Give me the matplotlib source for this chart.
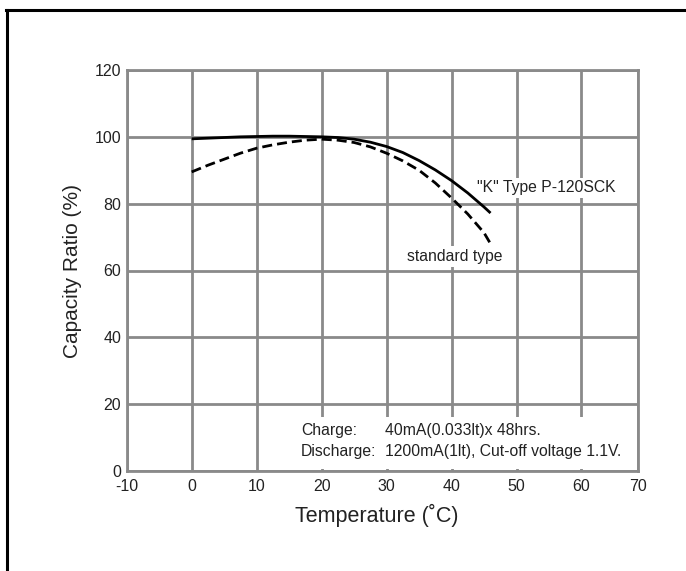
import matplotlib
matplotlib.use("Agg")
import matplotlib.pyplot as plt
from matplotlib.patches import Rectangle
from matplotlib.lines import Line2D

plt.rcParams['font.family'] = ['Liberation Sans', 'DejaVu Sans']

# Data
temp_k = [0, 2.5, 5, 7.5, 10, 12.5, 15, 17.5, 20, 22.5, 25, 27.5, 30, 32.5, 35, 37.5, 40, 42.5, 45, 46]
cap_k = [99.4, 99.6, 99.8, 100.0, 100.1, 100.2, 100.2, 100.1, 100.0, 99.8, 99.3, 98.4, 97.1, 95.3, 92.9, 90.1, 86.9, 83.2, 79.0, 77.2]
temp_std = [0, 2.5, 5, 7.5, 10, 12.5, 15, 17.5, 20, 22.5, 25, 27.5, 30, 32.5, 35, 37.5, 40, 42.5, 45, 46]
cap_std = [89.5, 91.5, 93.3, 95.1, 96.6, 97.6, 98.4, 99.0, 99.3, 99.0, 98.3, 97.0, 95.1, 92.8, 90.0, 86.2, 81.7, 76.9, 71.3, 68.0]

x_ticks = [-10, 0, 10, 20, 30, 40, 50, 60, 68.7]
x_tick_labels = ['-10', '0', '10', '20', '30', '40', '50', '60', '70']
y_ticks = [0, 20, 40, 60, 80, 100, 120]
y_tick_labels = ['0', '20', '40', '60', '80', '100', '120']

label_k = '"K" Type P-120SCK'
label_std = 'standard type'
note_keys = ['Charge:', 'Discharge:']
note_vals = ['40mA(0.033lt)x 48hrs.', '1200mA(1lt), Cut-off voltage 1.1V.']

W, H = 686, 571
fig = plt.figure(figsize=(W / 100, H / 100), dpi=100)
ax = fig.add_axes([126.7 / W, 1 - 471 / H, (638 - 126.7) / W, (471 - 70) / H])

grid_col = '#8a8a8a'
txt_col = '#222222'

ax.set_xlim(-10, 68.7)
ax.set_ylim(0, 120)
ax.set_xticks(x_ticks)
ax.set_xticklabels(x_tick_labels)
ax.set_yticks(y_ticks)
ax.set_yticklabels(y_tick_labels)
ax.tick_params(length=0, labelsize=11.5, colors=txt_col)
ax.tick_params(axis='x', pad=6)
ax.tick_params(axis='y', pad=4)
ax.set_axisbelow(True)
ax.grid(True, color=grid_col, linewidth=2.0)
for s in ax.spines.values():
    s.set_color(grid_col)
    s.set_linewidth(2.0)

ax.plot(temp_k, cap_k, color='black', linewidth=2.0, solid_capstyle='butt', zorder=3)
ax.plot(temp_std, cap_std, color='black', linewidth=2.0, linestyle=(0, (3.6, 1.8)), zorder=3)

fs_note = 11.3
bb = dict(facecolor='white', edgecolor='none', pad=2)
ax.text(43.9, 84.7, label_k, fontsize=fs_note, color=txt_col, ha='left', va='center', bbox=bb, zorder=2)
ax.text(33.1, 64.1, label_std, fontsize=fs_note, color=txt_col, ha='left', va='center', bbox=bb, zorder=2)

ax.add_patch(Rectangle((15.5, 0.6), 53.0, 15.6, facecolor='white', edgecolor='none', zorder=1))
ax.text(16.8, 12.0, note_keys[0], fontsize=fs_note, color=txt_col, ha='left', va='center', zorder=3)
ax.text(16.8, 5.7, note_keys[1], fontsize=fs_note, color=txt_col, ha='left', va='center', zorder=3)
ax.text(29.8, 12.0, note_vals[0], fontsize=fs_note, color=txt_col, ha='left', va='center', zorder=3)
ax.text(29.8, 5.7, note_vals[1], fontsize=fs_note, color=txt_col, ha='left', va='center', zorder=3)

ax.set_xlabel('Temperature (˚C)', fontsize=15.5, color=txt_col)
ax.xaxis.set_label_coords(0.4895, -0.082)
ax.set_ylabel('Capacity Ratio (%)', fontsize=15, color=txt_col)
ax.yaxis.set_label_coords(-0.0874, 0.5)

# outer frame (top and left edges visible)
fig.add_artist(Line2D([6 / W, 1.0], [1 - 10 / H, 1 - 10 / H], transform=fig.transFigure, color='black', linewidth=2.2))
fig.add_artist(Line2D([6.5 / W, 6.5 / W], [0.0, 1 - 10 / H], transform=fig.transFigure, color='black', linewidth=2.2))

fig.savefig('out.png', dpi=100)
